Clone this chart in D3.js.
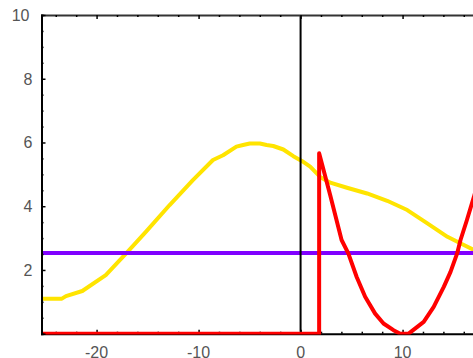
<!DOCTYPE html>
<html>
<head>
<meta charset="utf-8">
<script src="https://cdnjs.cloudflare.com/ajax/libs/d3/7.8.5/d3.min.js"></script>
<style>
  body { margin: 0; background: #fff; }
  svg { display: block; }
</style>
</head>
<body>
<div id="chart"></div>
<script>
// data
const yellowX = [-25.5, -23.4, -23.0, -21.4, -19.1, -17.1, -15.15, -12.86, -10.56, -8.59, -7.6, -6.29, -5.64, -4.98, -3.99, -3.33, -2.68, -1.69, -0.71, 0.12, 0.94, 1.92, 2.91, 4.55, 6.52, 8.49, 10.46, 12.43, 14.40, 15.71, 17.03];
const yellowY = [1.10, 1.10, 1.18, 1.34, 1.84, 2.52, 3.20, 4.03, 4.82, 5.45, 5.60, 5.87, 5.92, 5.97, 5.97, 5.92, 5.89, 5.78, 5.57, 5.42, 5.24, 4.92, 4.74, 4.58, 4.40, 4.17, 3.88, 3.46, 3.04, 2.83, 2.62];

const redX = [-26, 1.82, 1.82, 2.9, 4.02, 4.68, 5.50, 6.33, 7.31, 8.13, 9.11, 9.77, 10.59, 12.07, 13.05, 14.04, 14.70, 15.35, 15.68, 16.3, 17.0, 17.6];
const redY = [0, 0, 5.66, 4.35, 2.94, 2.52, 1.78, 1.16, 0.63, 0.32, 0.11, 0, 0, 0.37, 0.84, 1.47, 1.94, 2.52, 2.94, 3.56, 4.30, 5.0];

const purpleLevel = 2.53;

const yTickLabels = [2, 4, 6, 8, 10];
const xTickLabels = [-20, -10, 0, 10];

const width = 473, height = 358;
const margin = { top: 15, left: 41.5 };

const x = d3.scaleLinear().domain([-25.4, 25.4]).range([margin.left, margin.left + 50.8 * 10.2]);
const y = d3.scaleLinear().domain([0, 10]).range([333.7, margin.top]);

const svg = d3.select('#chart').append('svg')
  .attr('width', width)
  .attr('height', height);

svg.append('defs').append('clipPath').attr('id', 'plot')
  .append('rect')
  .attr('x', margin.left).attr('y', margin.top)
  .attr('width', width - margin.left).attr('height', 334.5 - margin.top);

// bottom axis (ticks pointing up)
const bottomAxis = svg.append('g')
  .attr('transform', `translate(0,${y(0)})`)
  .call(d3.axisTop(x).tickValues(d3.range(-24, 26, 2)).tickSize(2).tickFormat(''));
bottomAxis.select('.domain').attr('stroke', '#000').attr('stroke-width', 2);
bottomAxis.selectAll('.tick line').attr('stroke', '#000').attr('stroke-width', 1.5)
  .attr('y2', d => d % 10 === 0 ? -4 : -2);

const line = d3.line().x(d => x(d[0])).y(d => y(d[1]));
const curves = svg.append('g').attr('clip-path', 'url(#plot)');

curves.append('path')
  .datum(yellowX.map((v, i) => [v, yellowY[i]]))
  .attr('d', line)
  .attr('fill', 'none')
  .attr('stroke', '#ffe400')
  .attr('stroke-width', 4)
  .attr('stroke-linejoin', 'round');

curves.append('path')
  .datum([[-26, purpleLevel], [26, purpleLevel]])
  .attr('d', line)
  .attr('fill', 'none')
  .attr('stroke', '#8000ff')
  .attr('stroke-width', 4);

curves.append('path')
  .datum(redX.map((v, i) => [v, redY[i]]))
  .attr('d', line)
  .attr('fill', 'none')
  .attr('stroke', '#ff0000')
  .attr('stroke-width', 4)
  .attr('stroke-linejoin', 'round');

// zero line
svg.append('line')
  .attr('x1', x(0)).attr('x2', x(0))
  .attr('y1', y(10)).attr('y2', y(0) - 2)
  .attr('stroke', '#000')
  .attr('stroke-width', 2);

// top frame (ticks pointing down)
const topAxis = svg.append('g')
  .attr('transform', `translate(0,${y(10)})`)
  .call(d3.axisBottom(x).tickValues(d3.range(-24, 26, 2)).tickSize(2).tickFormat(''));
topAxis.select('.domain').attr('stroke', '#333').attr('stroke-width', 2);
topAxis.selectAll('.tick line').attr('stroke', '#000').attr('stroke-width', 1.5)
  .attr('y2', d => d % 10 === 0 ? 4 : 2);

// left axis (ticks pointing right)
const leftAxis = svg.append('g')
  .attr('transform', `translate(${margin.left},0)`)
  .call(d3.axisRight(y).tickValues(d3.range(0, 10.01, 0.5)).tickSize(2).tickFormat(''));
leftAxis.select('.domain').attr('stroke', '#000').attr('stroke-width', 2);
leftAxis.selectAll('.tick line').attr('stroke', '#000').attr('stroke-width', 1.5)
  .attr('x2', d => d % 2 === 0 ? 4 : 2);

// tick labels
svg.append('g').selectAll('text')
  .data(yTickLabels)
  .join('text')
  .attr('x', d => d === 10 ? 29.5 : 32.5)
  .attr('y', d => y(d))
  .attr('dy', '0.36em')
  .attr('text-anchor', 'end')
  .attr('font-family', 'Liberation Sans, Arial, sans-serif')
  .attr('font-size', 16)
  .attr('fill', '#555')
  .text(d => d);

svg.append('g').selectAll('text')
  .data(xTickLabels)
  .join('text')
  .attr('x', d => x(d))
  .attr('y', 358)
  .attr('text-anchor', 'middle')
  .attr('font-family', 'Liberation Sans, Arial, sans-serif')
  .attr('font-size', 16)
  .attr('fill', '#555')
  .text(d => d);
</script>
</body>
</html>
